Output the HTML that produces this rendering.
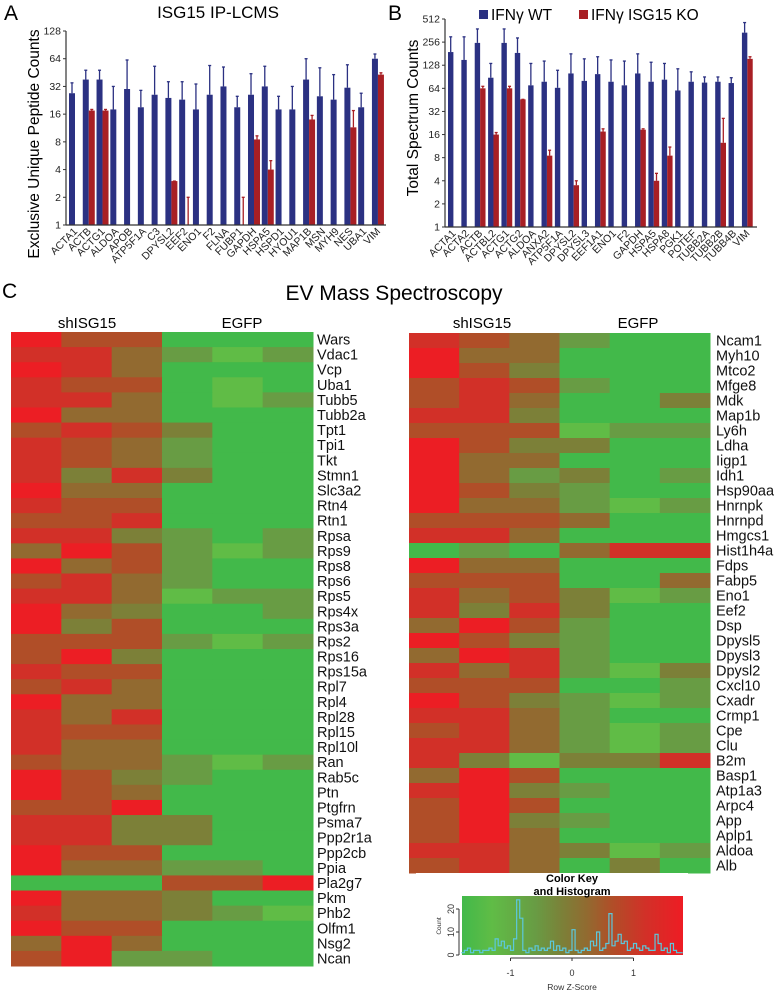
<!DOCTYPE html>
<html><head><meta charset="utf-8"><style>
html,body{margin:0;padding:0;background:#fff;}
svg{display:block;font-family:"Liberation Sans",sans-serif;}
</style></head><body>
<svg id="fig" width="774" height="992" viewBox="0 0 774 992" xmlns="http://www.w3.org/2000/svg">
<text x="4" y="20" font-size="21">A</text>
<text x="218" y="18" font-size="17" text-anchor="middle">ISG15 IP-LCMS</text>
<text transform="translate(39,144) rotate(-90)" font-size="15.5" text-anchor="middle">Exclusive Unique  Peptide Counts</text>
<text x="388" y="20" font-size="21">B</text>
<text transform="translate(418,118) rotate(-90)" font-size="15.5" text-anchor="middle">Total Spectrum Counts</text>
<rect x="479" y="10" width="9" height="9" fill="#2b3182"/>
<text x="491" y="20" font-size="15.5">IFNγ WT</text>
<rect x="579" y="10" width="9" height="9" fill="#a81f24"/>
<text x="591" y="20" font-size="15.5">IFNγ ISG15 KO</text>
<text x="2" y="298" font-size="21">C</text>
<text x="394" y="300" font-size="21" text-anchor="middle">EV Mass Spectroscopy</text>
<text x="87" y="328" font-size="15" text-anchor="middle">shISG15</text>
<text x="242" y="328" font-size="15" text-anchor="middle">EGFP</text>
<text x="482" y="328" font-size="15" text-anchor="middle">shISG15</text>
<text x="638" y="328" font-size="15" text-anchor="middle">EGFP</text>
<g id="gA"></g>
<g id="gB"></g>
<g id="gHL"></g>
<g id="gHR"></g>
<g id="gK"></g>
</svg>
<script>
// ---- Panel A data ----
const catsA = ["ACTA1","ACTB","ACTG1","ALDOA","APOB","ATP5F1A","C3","DPYSL2","EEF2","ENO1","F2","FLNA","FUBP1","GAPDH","HSPA5","HSPD1","HYOU1","MAP1B","MSN","MYH9","NES","UBA1","VIM"];
const wtA = [27,38,38,18,30,19,26,24,23,18,26,32,19,26,32,18,18,38,25,23,31,19,64];
const wtErrA = [35,48,48,32,62,29,53,36,36,34,54,52,25,44,53,25,32,64,51,43,55,27,72];
const koA = [0,17.5,17.5,0,0,0,0,3,1,0,0,0,1,8.5,4,0,0,14,0,0,11.5,0,43];
const koErrA = [0,18,18,0,0,0,0,3,2,0,0,0,2,9.3,5,0,0,15.5,0,0,17.5,0,45];
const ticksA = [1,2,4,8,16,32,64,128];
// ---- Panel B data ----
const catsB = ["ACTA1","ACTA2","ACTB","ACTBL2","ACTG1","ACTG2","ALDOA","ANXA2","ATP5F1A","DPYSL2","DPYSL3","EEF1A1","ENO1","F2","GAPDH","HSPA5","HSPA8","PGK1","POTEF","TUBB2A","TUBB2B","TUBB4B","VIM"];
const wtB = [190,150,250,88,250,185,70,78,65,100,80,98,78,70,100,78,83,60,78,76,78,75,340];
const wtErrB = [300,300,380,135,380,290,135,145,110,180,155,165,150,145,180,140,135,115,105,90,90,88,460];
const koB = [0,0,64,16,64,46,0,8.5,0,3.5,0,17.5,0,0,18.5,4,8.5,0,0,0,12.5,0,155];
const koErrB = [0,0,68,17,68,46,0,10,0,4,0,19,0,0,19,5,11,0,0,0,26,0,165];
const ticksB = [1,2,4,8,16,32,64,128,256,512];
// ---- Heatmap data (codes map to row z-scores) ----
const leftGenes = ["Wars","Vdac1","Vcp","Uba1","Tubb5","Tubb2a","Tpt1","Tpi1","Tkt","Stmn1","Slc3a2","Rtn4","Rtn1","Rpsa","Rps9","Rps8","Rps6","Rps5","Rps4x","Rps3a","Rps2","Rps16","Rps15a","Rpl7","Rpl4","Rpl28","Rpl15","Rpl10l","Ran","Rab5c","Ptn","Ptgfrn","Psma7","Ppp2r1a","Ppp2cb","Ppia","Pla2g7","Pkm","Phb2","Olfm1","Nsg2","Ncan"];
const leftCells = ["RbbGGG","rromlm","RroGGG","rbbGlG","rroGlm","RooGGG","brbvGG","rbomGG","rbomGG","rvrvGG","RooGGG","rbbGGG","bbrGGG","rrvmGm","oRbmlm","RobmGG","bromGG","rrolmm","RovGGm","RvbGGG","bbbmlm","bRvGGG","rbbGGG","broGGG","RooGGG","rorGGG","rbbGGG","rooGGG","boomlm","RbvmGG","RboGGG","bbRGGG","rrvvGG","rrvvGG","RbbGGG","RoommG","GGGbbR","RoovGG","roovml","RbbGGG","oRoGGG","bRmmGG"];
const rightGenes = ["Ncam1","Myh10","Mtco2","Mfge8","Mdk","Map1b","Ly6h","Ldha","Iigp1","Idh1","Hsp90aa1","Hnrnpk","Hnrnpd","Hmgcs1","Hist1h4a","Fdps","Fabp5","Eno1","Eef2","Dsp","Dpysl5","Dpysl3","Dpysl2","Cxcl10","Cxadr","Crmp1","Cpe","Clu","B2m","Basp1","Atp1a3","Arpc4","App","Aplp1","Aldoa","Alb"];
const rightCells = ["rbomGG","RooGGG","RbvGGG","brbmGG","broGGv","rrvGGG","bbblmm","RbvvGG","RooGGG","RomvGm","RbvmGG","Roomlm","bbboGG","rroGGG","GmGorr","RooGGG","bbbGGo","robvlm","rvrvGG","oRbmGG","RbvmGG","oRrmGG","rormlv","bbbGGm","Rbvmlm","rromGG","bromlm","rromlm","rvlvvr","oRbGGG","rRvmGG","bRbGGG","bRvmGG","bRoGGG","rrovlm","broGvG"];
const codeZ = {R:1.75,r:1.2,b:0.65,o:0.25,v:-0.15,m:-0.6,l:-1.3,G:-1.8};
// ---- Histogram data (bins of 0.05 starting at -1.8) ----
const histStart = -1.8;
const histBin = 0.05;
const histCounts = [1,2,3,1,2,2,1,2,2,3,2,7,4,6,3,4,2,7,24,16,2,1,3,2,4,2,3,2,3,6,2,4,2,3,1,2,11,2,1,2,3,2,6,4,10,2,3,5,18,4,6,9,5,6,2,3,5,3,2,4,3,2,2,9,5,2,3,1,5,2,1,1];
const histXTicks = [-1,0,1];
const histYTicks = [0,10,20];

const NS = "http://www.w3.org/2000/svg";
function mk(tag, attrs, parent){const e=document.createElementNS(NS,tag);for(const k in attrs)e.setAttribute(k,attrs[k]);parent.appendChild(e);return e;}

function barPanel(g, cats, wt, wtErr, ko, koErr, ticks, cfg){
  const y = v => cfg.y0 - Math.log2(v)*cfg.perDoub;
  const x = i => cfg.x0 + i*cfg.pitch;
  const blue="#2b3182", red="#a81f24";
  cats.forEach((c,i)=>{
    const s = x(i);
    if(wt[i]>0){
      const e1=mk("line",{x1:s+cfg.bw/2,x2:s+cfg.bw/2,y1:y(wtErr[i]),y2:y(wt[i]),stroke:blue,"stroke-width":1.3},g);
      
      
      const e2=mk("line",{x1:s+cfg.bw/2-1.5,x2:s+cfg.bw/2+1.5,y1:y(wtErr[i]),y2:y(wtErr[i]),stroke:blue,"stroke-width":1.3},g);
      
      
      const b=mk("rect",{x:s,y:y(wt[i]),width:cfg.bw,height:cfg.y0-y(wt[i]),fill:blue},g);
      
      
    }
    if(ko[i]>0){
      const rx=s+cfg.bw;
      const e3=mk("line",{x1:rx+cfg.bw/2,x2:rx+cfg.bw/2,y1:y(koErr[i]),y2:y(ko[i]),stroke:red,"stroke-width":1.3},g);
      
      
      const e4=mk("line",{x1:rx+cfg.bw/2-1.5,x2:rx+cfg.bw/2+1.5,y1:y(koErr[i]),y2:y(koErr[i]),stroke:red,"stroke-width":1.3},g);
      
      
      const b=mk("rect",{x:rx,y:y(ko[i]),width:cfg.bw,height:Math.max(cfg.y0-y(ko[i]),0.01),fill:red},g);
      
      
    }
    const t=mk("text",{transform:`translate(${s+cfg.bw+3},${cfg.y0+7}) rotate(-45)`,"font-size":10.5,"text-anchor":"end",fill:"#222"},g);
    t.textContent=c;
    
    
  });
  const ax=mk("line",{x1:cfg.ax,x2:cfg.ax,y1:y(ticks[ticks.length-1]),y2:cfg.y0,stroke:"#333","stroke-width":1.2},g);
  
  
  const bx=mk("line",{x1:cfg.ax,x2:cfg.xEnd,y1:cfg.y0,y2:cfg.y0,stroke:"#333","stroke-width":1.2},g);
  
  
  ticks.forEach(v=>{
    const tk=mk("line",{x1:cfg.ax-3,x2:cfg.ax,y1:y(v),y2:y(v),stroke:"#333"},g);
    
    
    const tl=mk("text",{x:cfg.ax-5,y:y(v)+3.5,"font-size":10.5,"text-anchor":"end",fill:"#222"},g);
    tl.textContent=v;
    
    
  });
}
barPanel(document.getElementById("gA"),catsA,wtA,wtErrA,koA,koErrA,ticksA,{y0:225,perDoub:194/7,x0:69,pitch:13.77,bw:6,ax:66,xEnd:386});
barPanel(document.getElementById("gB"),catsB,wtB,wtErrB,koB,koErrB,ticksB,{y0:227,perDoub:208/9,x0:448,pitch:13.36,bw:5.4,ax:445,xEnd:757});

// z -> color
const stops=[[-1.8,[66,185,74]],[-1.3,[96,188,70]],[-0.6,[104,156,68]],[-0.15,[124,128,56]],[0.25,[146,106,48]],[0.65,[176,78,40]],[1.2,[210,48,40]],[1.8,[238,28,36]]];
function zcol(z){
  if(z<=stops[0][0])return `rgb(${stops[0][1]})`;
  for(let i=1;i<stops.length;i++){if(z<=stops[i][0]){const[a,ca]=stops[i-1],[b,cb]=stops[i];const t=(z-a)/(b-a);return `rgb(${ca.map((v,k)=>Math.round(v+(cb[k]-v)*t)).join(",")})`;}}
  return `rgb(${stops[stops.length-1][1]})`;
}
function heatmap(g, genes, cells, x0, x1, y0, rowH, labX){
  const cw=(x1-x0)/6;
  genes.forEach((gn,r)=>{
    for(let c=0;c<6;c++){
      const z=codeZ[cells[r][c]];
      const rc=mk("rect",{x:x0+c*cw,y:y0+r*rowH,width:cw+0.5,height:rowH+0.5,fill:zcol(z)},g);
      
      
    }
    const t=mk("text",{x:labX,y:y0+r*rowH+rowH/2+5,"font-size":14.5,fill:"#111"},g);
    t.textContent=gn;
    
    
  });
}
heatmap(document.getElementById("gHL"),leftGenes,leftCells,11,313,332,(966-332)/42,317);
heatmap(document.getElementById("gHR"),rightGenes,rightCells,409,710,333,(873-333)/36,716);

// color key
(function(){
  const g=document.getElementById("gK");
  const wr=mk("rect",{x:416,y:873,width:272,height:6,fill:"#fff"},g);
  
  
  const bx0=462,bx1=683,by0=896,by1=955;
  const zx=z=>572+z*61.5, cy=c=>955-c*2.3;
  const defs=mk("defs",{},g);
  const lg=mk("linearGradient",{id:"kg",x1:"0",x2:"1",y1:"0",y2:"0"},defs);
  stops.forEach(s=>{mk("stop",{offset:((zx(s[0])-bx0)/(bx1-bx0)).toFixed(3),"stop-color":zcol(s[0])},lg);});
  const kr=mk("rect",{x:bx0,y:by0,width:bx1-bx0,height:by1-by0,fill:"url(#kg)"},g);
  
  
  let d="";
  histCounts.forEach((c,i)=>{const xa=zx(histStart+i*histBin),xb=zx(histStart+(i+1)*histBin);d+=(i?"L":"M")+xa+","+cy(c)+"L"+xb+","+cy(c);});
  const hp=mk("path",{d:d,fill:"none",stroke:"#5cc8dc","stroke-width":1.2},g);
  
  
  const t1=mk("text",{x:572,y:882,"font-size":11,"font-weight":"bold","text-anchor":"middle"},g);t1.textContent="Color Key";
  
  
  const t2=mk("text",{x:572,y:895,"font-size":11,"font-weight":"bold","text-anchor":"middle"},g);t2.textContent="and Histogram";
  
  
  const la=mk("line",{x1:bx0-3,x2:bx0-3,y1:cy(20),y2:cy(0),stroke:"#333"},g);
  
  
  histYTicks.forEach(v=>{
    const tk=mk("line",{x1:bx0-6,x2:bx0-3,y1:cy(v),y2:cy(v),stroke:"#333"},g);
    
    
    const tl=mk("text",{transform:`translate(${bx0-8},${cy(v)}) rotate(-90)`,"font-size":9,"text-anchor":"middle",fill:"#333"},g);tl.textContent=v;
    
    
  });
  const cl=mk("text",{transform:`translate(441,926) rotate(-90)`,"font-size":6.5,"text-anchor":"middle",fill:"#333"},g);cl.textContent="Count";
  
  
  const lx=mk("line",{x1:zx(-1),x2:zx(1),y1:by1+3,y2:by1+3,stroke:"#333"},g);
  
  
  histXTicks.forEach(v=>{
    const tk=mk("line",{x1:zx(v),x2:zx(v),y1:by1+3,y2:by1+6,stroke:"#333"},g);
    
    
    const tl=mk("text",{x:zx(v),y:976,"font-size":9,"text-anchor":"middle",fill:"#333"},g);tl.textContent=v;
    
    
  });
  const xt=mk("text",{x:572,y:990,"font-size":8.5,"text-anchor":"middle",fill:"#333"},g);xt.textContent="Row Z-Score";
  
  
})();
</script>
</body></html>
